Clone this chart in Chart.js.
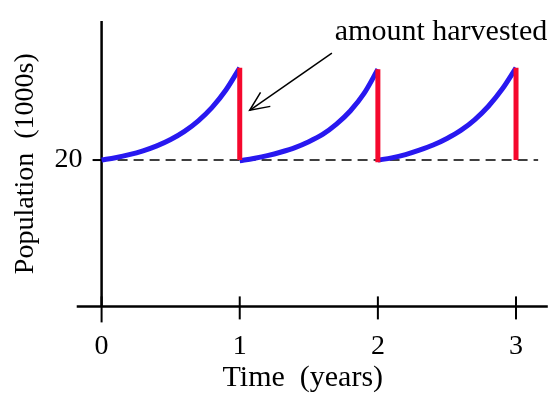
<!DOCTYPE html>
<html>
<head>
<meta charset="utf-8">
<script src="https://cdn.jsdelivr.net/npm/chart.js@4"></script>
<style>
  html, body { margin: 0; padding: 0; background: #ffffff; }
  #wrap { width: 550px; height: 396px; }
</style>
</head>
<body>
<div id="wrap"><canvas id="c" width="550" height="396"></canvas></div>
<script>
// ---- data ----
const year1T = [0, 0.1, 0.2, 0.3, 0.4, 0.5, 0.6, 0.7, 0.8, 0.9, 1.0];
const year1P = [20, 20.32, 20.73, 21.26, 21.94, 22.81, 23.92, 25.36, 27.2, 29.57, 32.6];
const year2T = [1, 1.1, 1.2, 1.3, 1.4, 1.5, 1.6, 1.7, 1.8, 1.9, 2.0];
const year2P = [19.9, 20.2, 20.6, 21.1, 21.7, 22.5, 23.5, 24.9, 26.7, 29.1, 32.4];
const year3T = [2, 2.1, 2.2, 2.3, 2.4, 2.5, 2.6, 2.7, 2.8, 2.9, 3.0];
const year3P = [20, 20.3, 20.75, 21.35, 22.05, 22.95, 24.05, 25.5, 27.35, 29.7, 32.6];
const harvestT = [1, 2, 3];
const harvestTop = [32.6, 32.4, 32.6];
const harvestBottom = [20, 19.7, 20];
const baselineT = [0, 3.16];
const baselineP = [20, 20];
const xTicks = [0, 1, 2, 3];
const yTicks = [20];
const xRange = [-0.123, 3.036];
const xAxisExtent = [-0.18, 3.23];
const yRange = [0, 39];
const annotationText = 'amount harvested';
const annotationPos = [2.457, 36.4];
const arrowFrom = [1.667, 34.6];
const arrowTo = [1.072, 26.8];

const BLUE = 'rgb(40,24,240)';
const RED = 'rgb(245,8,45)';
const SERIF = '"Liberation Serif", "Times New Roman", serif';

function pts(xs, ys) { return xs.map((x, i) => ({ x: x, y: ys[i] })); }

const datasets = [];
[[year1T, year1P], [year2T, year2P], [year3T, year3P]].forEach(([t, p]) => {
  datasets.push({
    data: pts(t, p), borderColor: BLUE, borderWidth: 5, pointRadius: 0,
    cubicInterpolationMode: 'monotone', fill: false, clip: false, order: 2
  });
});
harvestT.forEach((t, i) => {
  datasets.push({
    data: [{ x: t, y: harvestTop[i] }, { x: t, y: harvestBottom[i] }],
    borderColor: RED, borderWidth: 5, pointRadius: 0, fill: false, clip: false, order: 1
  });
});
datasets.push({
  data: pts(baselineT, baselineP), borderColor: '#000', borderWidth: 1.6,
  borderDash: [10, 6], pointRadius: 0, fill: false, clip: false, order: 3
});

const axesPlugin = {
  id: 'axesPlugin',
  beforeDatasetsDraw(chart) {
    const { ctx, scales: { x, y } } = chart;
    const x0 = x.getPixelForValue(0);
    const y0 = y.getPixelForValue(0);
    ctx.save();
    ctx.strokeStyle = '#000';
    ctx.lineCap = 'butt';
    // horizontal axis
    ctx.lineWidth = 2.5;
    ctx.beginPath();
    ctx.moveTo(x.getPixelForValue(xAxisExtent[0]), y0);
    ctx.lineTo(x.getPixelForValue(xAxisExtent[1]), y0);
    ctx.stroke();
    // vertical axis at t = 0
    ctx.beginPath();
    ctx.moveTo(x0, y.getPixelForValue(yRange[1]));
    ctx.lineTo(x0, y0);
    ctx.stroke();
    // x tick marks crossing the axis
    ctx.lineWidth = 2;
    xTicks.forEach(v => {
      const px = x.getPixelForValue(v);
      ctx.beginPath();
      ctx.moveTo(px, y0 - 10);
      ctx.lineTo(px, y0 + (v === 0 ? 16 : 13));
      ctx.stroke();
    });
    // y tick marks
    yTicks.forEach(v => {
      const py = y.getPixelForValue(v);
      ctx.beginPath();
      ctx.moveTo(x0 - 9, py);
      ctx.lineTo(x0, py);
      ctx.stroke();
    });
    ctx.restore();
  },
  afterDraw(chart) {
    const { ctx, scales: { x, y } } = chart;
    ctx.save();
    ctx.fillStyle = '#000';
    ctx.font = '30px ' + SERIF;
    ctx.textAlign = 'center';
    ctx.textBaseline = 'alphabetic';
    ctx.fillText(annotationText, x.getPixelForValue(annotationPos[0]), y.getPixelForValue(annotationPos[1]));
    const fx = x.getPixelForValue(arrowFrom[0]), fy = y.getPixelForValue(arrowFrom[1]);
    const tx = x.getPixelForValue(arrowTo[0]), ty = y.getPixelForValue(arrowTo[1]);
    ctx.strokeStyle = '#000';
    ctx.lineWidth = 1.5;
    ctx.beginPath();
    ctx.moveTo(fx, fy);
    ctx.lineTo(tx, ty);
    ctx.stroke();
    const ang = Math.atan2(ty - fy, tx - fx);
    const head = 21, spread = 0.42;
    ctx.beginPath();
    ctx.moveTo(tx - head * Math.cos(ang - spread), ty - head * Math.sin(ang - spread));
    ctx.lineTo(tx, ty);
    ctx.lineTo(tx - head * Math.cos(ang + spread), ty - head * Math.sin(ang + spread));
    ctx.stroke();
    ctx.restore();
  }
};

new Chart(document.getElementById('c'), {
  type: 'line',
  data: { datasets: datasets },
  options: {
    responsive: false,
    devicePixelRatio: 1,
    animation: false,
    events: [],
    layout: { padding: { left: 9, right: 29, top: 21, bottom: 0 } },
    plugins: { legend: { display: false }, tooltip: { enabled: false } },
    scales: {
      x: {
        type: 'linear',
        min: xRange[0], max: xRange[1],
        afterBuildTicks: s => { s.ticks = xTicks.map(v => ({ value: v })); },
        grid: { display: false, drawTicks: false },
        border: { display: false },
        ticks: { color: '#000', font: { family: SERIF, size: 28 }, padding: 23, maxRotation: 0, autoSkip: false },
        title: { display: true, text: 'Time  (years)', color: '#000', font: { family: SERIF, size: 30 }, padding: { top: -26, bottom: 0 } }
      },
      y: {
        type: 'linear',
        min: yRange[0], max: yRange[1],
        afterBuildTicks: s => { s.ticks = yTicks.map(v => ({ value: v })); },
        grid: { display: false, drawTicks: false },
        border: { display: false },
        ticks: { color: '#000', font: { family: SERIF, size: 28 }, padding: 2 },
        title: { display: true, text: 'Population  (1000s)', color: '#000', font: { family: SERIF, size: 28 }, padding: { top: 0, bottom: 10 } }
      }
    }
  },
  plugins: [axesPlugin]
});
</script>
</body>
</html>
